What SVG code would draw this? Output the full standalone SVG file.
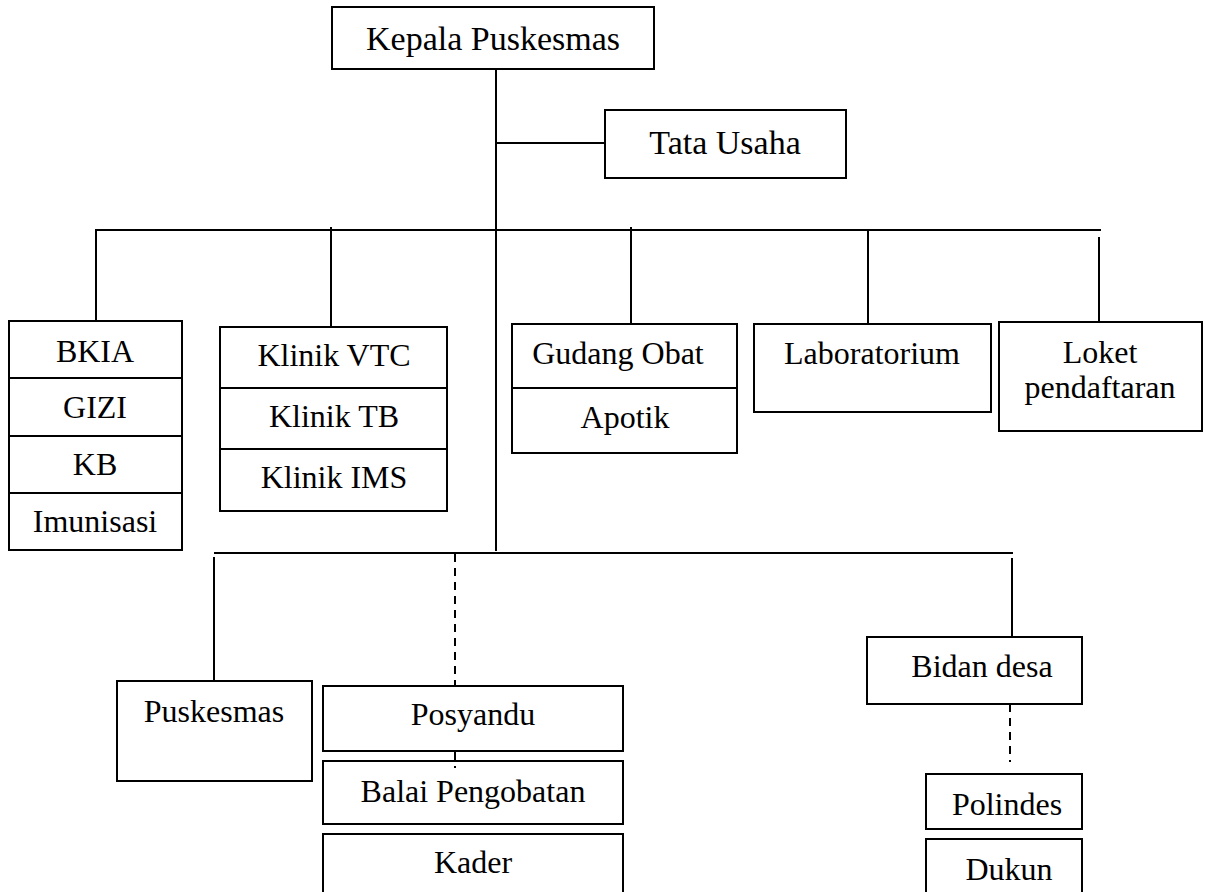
<svg xmlns="http://www.w3.org/2000/svg" width="1205" height="892" viewBox="0 0 1205 892">
<style>
.box{fill:#fff;stroke:#000;stroke-width:2}
.ln{stroke:#000;stroke-width:2;fill:none}
.dash{stroke:#000;stroke-width:2;fill:none;stroke-dasharray:8 6}
text{font-family:"Liberation Serif","Times New Roman",serif;fill:#000;text-anchor:middle}
.t{font-size:32px}
.tb{font-size:34px}
</style>
<rect width="1205" height="892" fill="#fff"/>
<g id="connectors">
<line class="ln" x1="496" y1="69" x2="496" y2="551"/>
<line class="ln" x1="496" y1="143" x2="605" y2="143"/>
<line class="ln" x1="95" y1="230" x2="1101" y2="230"/>
<line class="ln" x1="96" y1="230" x2="96" y2="321"/>
<line class="ln" x1="331" y1="227" x2="331" y2="327"/>
<line class="ln" x1="631" y1="227" x2="631" y2="324"/>
<line class="ln" x1="868" y1="230" x2="868" y2="324"/>
<line class="ln" x1="1099" y1="237" x2="1099" y2="322"/>
<line class="ln" x1="214" y1="553" x2="1013" y2="553"/>
<line class="ln" x1="214" y1="557" x2="214" y2="681"/>
<line class="ln" x1="1012" y1="558" x2="1012" y2="637"/>
<line class="dash" x1="455" y1="554" x2="455" y2="686"/>
<line class="dash" x1="455" y1="751" x2="455" y2="768" style="stroke-dasharray:9 6 2 20"/>
<line class="dash" x1="1010" y1="704" x2="1010" y2="762"/>
</g>
<g id="kepala">
<rect class="box" x="332" y="7" width="322" height="62"/>
<text class="tb" x="493" y="50">Kepala Puskesmas</text>
</g>
<g id="tata-usaha">
<rect class="box" x="605" y="110" width="241" height="68"/>
<text class="tb" x="725" y="154">Tata Usaha</text>
</g>
<g id="bkia">
<rect class="box" x="9" y="321" width="173" height="229"/>
<line class="ln" x1="9" y1="378" x2="182" y2="378"/>
<line class="ln" x1="9" y1="436" x2="182" y2="436"/>
<line class="ln" x1="9" y1="493" x2="182" y2="493"/>
<text class="t" x="95" y="362">BKIA</text>
<text class="t" x="95" y="418">GIZI</text>
<text class="t" x="95" y="475">KB</text>
<text class="t" x="95" y="532">Imunisasi</text>
</g>
<g id="klinik">
<rect class="box" x="220" y="327" width="227" height="184"/>
<line class="ln" x1="220" y1="388" x2="447" y2="388"/>
<line class="ln" x1="220" y1="449" x2="447" y2="449"/>
<text class="t" x="334" y="366">Klinik VTC</text>
<text class="t" x="334" y="427">Klinik TB</text>
<text class="t" x="334" y="488">Klinik IMS</text>
</g>
<g id="gudang">
<rect class="box" x="512" y="324" width="225" height="129"/>
<line class="ln" x1="512" y1="388" x2="737" y2="388"/>
<text class="t" x="618" y="364">Gudang Obat</text>
<text class="t" x="625" y="428">Apotik</text>
</g>
<g id="laboratorium">
<rect class="box" x="754" y="324" width="237" height="88"/>
<text class="t" x="872" y="364">Laboratorium</text>
</g>
<g id="loket">
<rect class="box" x="999" y="322" width="203" height="109"/>
<text class="t" x="1100" y="363">Loket</text>
<text class="t" x="1100" y="398">pendaftaran</text>
</g>
<g id="puskesmas">
<rect class="box" x="117" y="681" width="195" height="100"/>
<text class="t" x="214" y="722">Puskesmas</text>
</g>
<g id="posyandu">
<rect class="box" x="323" y="686" width="300" height="65"/>
<text class="t" x="473" y="725">Posyandu</text>
</g>
<g id="balai">
<rect class="ln" x="323" y="761" width="300" height="63"/>
<text class="t" x="473" y="802">Balai Pengobatan</text>
</g>
<g id="kader">
<rect class="box" x="323" y="834" width="300" height="70"/>
<text class="t" x="473" y="873">Kader</text>
</g>
<g id="bidan">
<rect class="box" x="867" y="637" width="215" height="67"/>
<text class="t" x="982" y="677">Bidan desa</text>
</g>
<g id="polindes">
<rect class="box" x="926" y="774" width="156" height="55"/>
<text class="t" x="1007" y="815">Polindes</text>
</g>
<g id="dukun">
<rect class="box" x="926" y="839" width="156" height="70"/>
<text class="t" x="1009" y="880">Dukun</text>
</g>
</svg>
